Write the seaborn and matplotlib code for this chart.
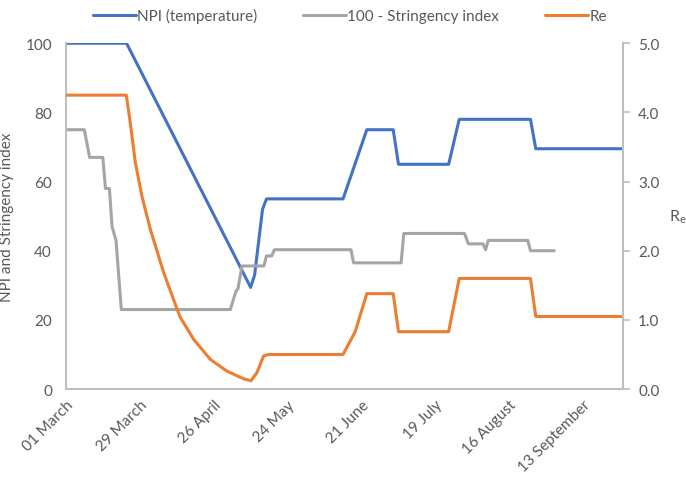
import numpy as np
import pandas as pd
import matplotlib.pyplot as plt
import seaborn as sns

# days since 01 March 2020 and values
npi_days = [0, 23, 70, 71.5, 74.5, 76, 105, 114, 124, 126, 145, 149, 176, 178, 211]
npi_vals = [100, 100, 29.4, 33, 52, 55, 55, 75, 75, 65, 65, 78, 78, 69.5, 69.5]

str_days = [0, 7, 9, 14, 15, 16.5, 17.5, 19, 21, 62.3, 63.5, 64.5, 65.2, 66.7, 75, 76, 78, 79,
            108, 109, 127, 128, 151, 152.5, 158, 159, 160, 175, 176, 185]
str_vals = [75, 75, 67, 67, 58, 58, 47, 43, 23, 23, 26, 28.4, 29, 35.6, 35.6, 38.5, 38.5, 40.3,
            40.3, 36.5, 36.5, 45, 45, 42, 42, 40.3, 43, 43, 40, 40]

re_days = [0, 22.9, 24.4, 26.3, 28.8, 32, 37, 42.1, 43.3, 48.4, 54.7, 61, 67.3, 70.1, 72.4,
           74.9, 76.8, 105, 109.6, 114, 124, 126, 145, 149, 176, 178, 211]
re_vals = [4.25, 4.25, 3.85, 3.28, 2.79, 2.31, 1.69, 1.16, 1.04, 0.72, 0.43, 0.26, 0.15, 0.12,
           0.24, 0.48, 0.5, 0.5, 0.83, 1.38, 1.38, 0.83, 0.83, 1.6, 1.6, 1.05, 1.05]

tick_days = [0, 28, 56, 84, 112, 140, 168, 196]
tick_labels = ['01 March', '29 March', '26 April', '24 May', '21 June',
               '19 July', '16 August', '13 September']

sns.set_style('white')
plt.rcParams['font.family'] = ['Lato', 'DejaVu Sans']
txt = '#595959'
grey_ax = '#BFBFBF'

fig = plt.figure(figsize=(6.86, 4.81), dpi=100)
ax = fig.add_axes([0.096, 0.189, 0.812, 0.719])
ax2 = ax.twinx()

npi = pd.DataFrame({'day': npi_days, 'v': npi_vals})
stri = pd.DataFrame({'day': str_days, 'v': str_vals})
re = pd.DataFrame({'day': re_days, 'v': re_vals})

sns.lineplot(data=npi, x='day', y='v', ax=ax, color='#4472C4', lw=2.2, label='NPI (temperature)', legend=False)
sns.lineplot(data=stri, x='day', y='v', ax=ax, color='#A5A5A5', lw=2.2, label='100 - Stringency index', legend=False)
sns.lineplot(data=re, x='day', y='v', ax=ax2, color='#ED7D31', lw=2.2, label='Re', legend=False)

ax.set_xlim(0, 211)
ax.set_ylim(0, 100)
ax2.set_ylim(0, 5)
ax.set_yticks([0, 20, 40, 60, 80, 100])
ax2.set_yticks([0, 1, 2, 3, 4, 5])
ax2.set_yticklabels([f'{v:.1f}' for v in range(6)])
ax.set_xticks(tick_days)
ax.set_xticklabels(tick_labels, rotation=45, ha='right', rotation_mode='anchor')
ax.set_xlabel('')
ax.set_ylabel('NPI and Stringency index', fontsize=11, color=txt, labelpad=8)
ax2.set_ylabel(r'$\mathregular{R_e}$', fontsize=11.5, color=txt, rotation=0, labelpad=13, va='center')

for a in (ax, ax2):
    a.spines['top'].set_visible(False)
    for s in ['left', 'right', 'bottom']:
        a.spines[s].set_color(grey_ax)
        a.spines[s].set_linewidth(1.5)
ax.spines['right'].set_visible(False)
ax2.spines['left'].set_visible(False)
ax2.spines['bottom'].set_visible(False)

ax.tick_params(axis='y', length=0, labelsize=11, labelcolor=txt, pad=10)
ax.tick_params(axis='x', direction='in', length=5, color=grey_ax, width=1.2,
               labelsize=11, labelcolor=txt, pad=6)
ax2.tick_params(axis='y', direction='out', length=5, color=grey_ax, width=1.2,
                labelsize=11, labelcolor=txt, pad=6)

h1, l1 = ax.get_legend_handles_labels()
h2, l2 = ax2.get_legend_handles_labels()
fig.legend(h1 + h2, l1 + l2, loc='upper center', bbox_to_anchor=(0.51, 1.01), ncol=3,
           frameon=False, fontsize=11, labelcolor=txt, handlelength=2.8,
           handletextpad=0.1, columnspacing=3.0)

fig.savefig('out.png', dpi=100)
